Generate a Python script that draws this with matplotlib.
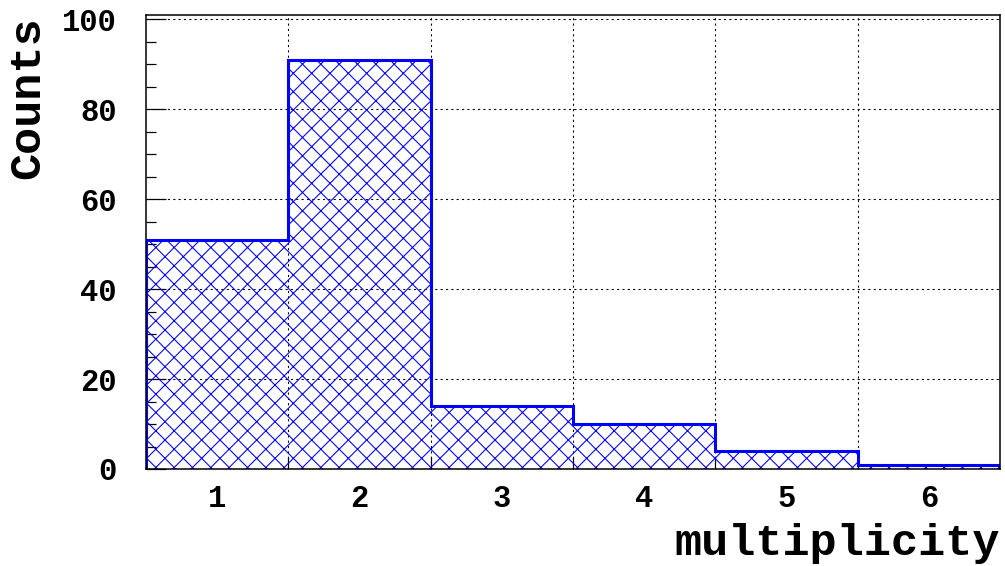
import numpy as np
import matplotlib
matplotlib.use('Agg')
import matplotlib.pyplot as plt

# Multiplicity histogram, one bin per integer value
multiplicity = [1, 2, 3, 4, 5, 6]
counts = [51, 91, 14, 10, 4, 1]
y_ticks = [0, 20, 40, 60, 80, 100]

DPI = 110
plt.rcParams['font.family'] = ['Liberation Mono', 'DejaVu Sans Mono']
plt.rcParams['font.weight'] = 'bold'
plt.rcParams['hatch.linewidth'] = 0.7
plt.rcParams['hatch.color'] = 'blue'

fig = plt.figure(figsize=(1006 / DPI, 566 / DPI), dpi=DPI)
ax = fig.add_axes([146 / 1006, 97 / 566, 854 / 1006, 454 / 566])

edges = np.arange(len(multiplicity) + 1) + 0.5

# hatched fill, then the thick outline on top
ax.stairs(counts, edges, fill=True, facecolor='none', edgecolor='blue',
          hatch='xx', linewidth=0, zorder=2)
ax.stairs(counts, edges, color='blue', linewidth=2.0, baseline=0, zorder=3)

ax.set_xlim(edges[0], edges[-1])
ax.set_ylim(0, 101)

# bin edges carry the ticks and grid, bin centres carry the labels
ax.set_xticks(edges[1:-1])
ax.set_xticklabels([])
ax.set_xticks(multiplicity, minor=True)
ax.set_xticklabels([str(m) for m in multiplicity], minor=True)
ax.tick_params(axis='x', which='major', direction='in', length=8, width=0.8)
ax.tick_params(axis='x', which='minor', length=0, pad=10, labelsize=20)

ax.set_yticks(y_ticks)
ax.set_yticks(np.arange(0, 101, 5), minor=True)
ax.tick_params(axis='y', which='major', direction='in', length=13, width=0.8,
               pad=19, labelsize=20)
ax.tick_params(axis='y', which='minor', direction='in', length=6.5, width=0.8)

ax.grid(True, which='major', color='black', linestyle=(0, (2, 3)),
        linewidth=0.7, zorder=1)
ax.set_axisbelow(True)

for spine in ax.spines.values():
    spine.set_linewidth(1.0)
    spine.set_zorder(4)

fig.text(27.5 / 1006, 1 - 16 / 566, 'Counts', rotation=90, ha='center',
         va='top', fontsize=29.5, fontweight='bold')
fig.text(1000 / 1006, 11 / 566, 'multiplicity', ha='right', va='baseline',
         fontsize=29.5, fontweight='bold')

fig.savefig('out.png', dpi=DPI)
